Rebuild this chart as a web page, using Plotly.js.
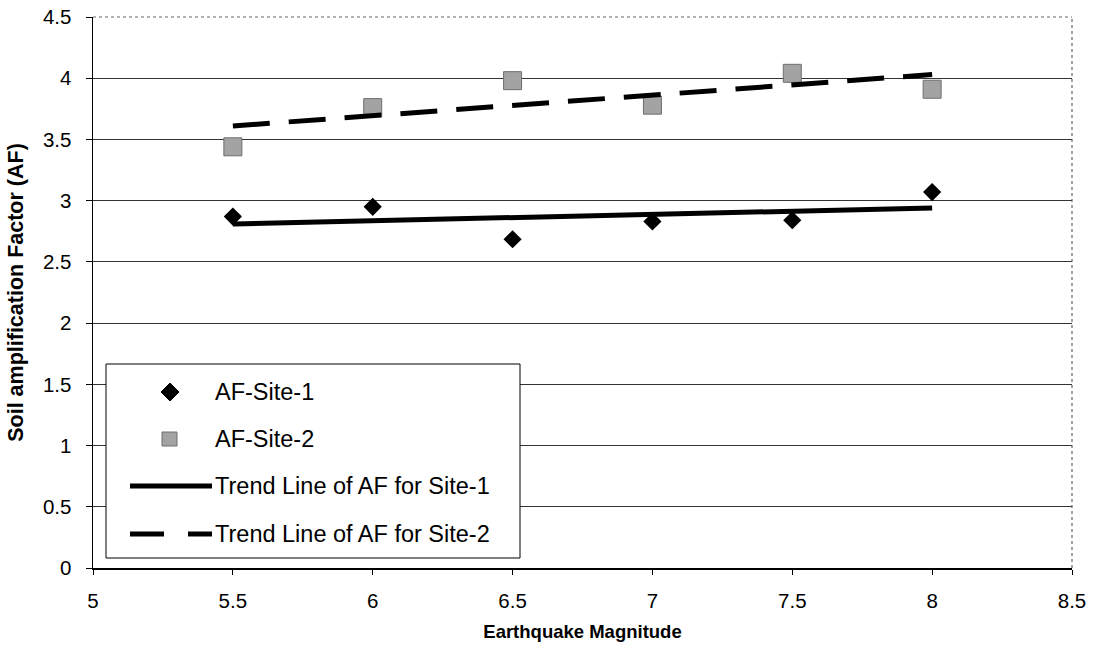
<!DOCTYPE html>
<html><head><meta charset="utf-8">
<script src="https://cdn.plot.ly/plotly-3.0.1.min.js"></script>
<style>html,body{margin:0;padding:0;background:#fff}</style>
</head><body><div id="chart" style="width:1095px;height:650px"></div>
<script>
// ---- data ----
const magnitudes = [5.5, 6, 6.5, 7, 7.5, 8];
const afSite1 = [2.87, 2.95, 2.685, 2.83, 2.84, 3.07];
const afSite2 = [3.44, 3.76, 3.98, 3.78, 4.04, 3.91];
const trendX = [5.5, 8];
const trendSite1 = [2.81, 2.94];
const trendSite2 = [3.61, 4.03];
const xTickVals = [5, 5.5, 6, 6.5, 7, 7.5, 8, 8.5];
const xTickText = ['5', '5.5', '6', '6.5', '7', '7.5', '8', '8.5'];
const yTickVals = [0, 0.5, 1, 1.5, 2, 2.5, 3, 3.5, 4, 4.5];
const yTickText = ['0', '0.5', '1', '1.5', '2', '2.5', '3', '3.5', '4', '4.5'];
const legendNames = ['AF-Site-1', 'AF-Site-2', 'Trend Line of AF for Site-1', 'Trend Line of AF for Site-2'];
const xTitle = 'Earthquake Magnitude';
const yTitle = 'Soil amplification Factor (AF)';

// ---- layout geometry ----
const W = 1095, H = 650;
const M = {l: 93, r: 23, t: 17, b: 82};
const PW = W - M.l - M.r, PH = H - M.t - M.b;
const px = x => (x - M.l) / PW;          // pixel -> paper x
const py = y => (H - M.b - y) / PH;      // pixel -> paper y
const FONT = 'Arial, "Liberation Sans", sans-serif';
const SQUARE_GRAY = '#a3a3a3';

const traces = [
  {x: magnitudes, y: afSite1, name: legendNames[0], type: 'scatter', mode: 'markers',
   marker: {symbol: 'diamond', size: 14, color: '#000'}},
  {x: magnitudes, y: afSite2, name: legendNames[1], type: 'scatter', mode: 'markers',
   marker: {symbol: 'square', size: 18, color: SQUARE_GRAY, line: {color: '#6e6e6e', width: 1}}},
  {x: trendX, y: trendSite1, name: legendNames[2], type: 'scatter', mode: 'lines',
   line: {color: '#000', width: 5}},
  {x: trendX, y: trendSite2, name: legendNames[3], type: 'scatter', mode: 'lines',
   line: {color: '#000', width: 5, dash: '37px,19px'}}
];

// manual legend (box, samples, labels) in paper coordinates
const shapes = [
  // dotted top / right plot borders
  {type: 'line', xref: 'paper', yref: 'paper', x0: 0, x1: 1, y0: 1, y1: 1,
   line: {color: '#666', width: 1.2, dash: 'dot'}},
  {type: 'line', xref: 'paper', yref: 'paper', x0: 1, x1: 1, y0: 0, y1: 1,
   line: {color: '#666', width: 1.2, dash: 'dot'}},
  // legend box
  {type: 'rect', xref: 'paper', yref: 'paper', layer: 'above',
   x0: px(106), x1: px(520), y0: py(558), y1: py(364),
   fillcolor: '#fff', line: {color: '#000', width: 1}},
  // diamond sample
  {type: 'path', xref: 'paper', yref: 'paper', layer: 'above',
   path: `M${px(170)},${py(383)} L${px(179)},${py(392)} L${px(170)},${py(401)} L${px(161)},${py(392)} Z`,
   fillcolor: '#000', line: {color: '#000', width: 1}},
  // square sample
  {type: 'rect', xref: 'paper', yref: 'paper', layer: 'above',
   x0: px(162), x1: px(177), y0: py(446), y1: py(432),
   fillcolor: SQUARE_GRAY, line: {color: '#6e6e6e', width: 1}},
  // solid line sample
  {type: 'line', xref: 'paper', yref: 'paper', layer: 'above',
   x0: px(130), x1: px(212), y0: py(486), y1: py(486), line: {color: '#000', width: 5}},
  // dashed line sample
  {type: 'line', xref: 'paper', yref: 'paper', layer: 'above',
   x0: px(130), x1: px(164), y0: py(534), y1: py(534), line: {color: '#000', width: 5}},
  {type: 'line', xref: 'paper', yref: 'paper', layer: 'above',
   x0: px(188), x1: px(212), y0: py(534), y1: py(534), line: {color: '#000', width: 5}}
];

const legendY = [392, 439, 486, 534];
const annotations = legendNames.map((t, i) => ({
  text: t, xref: 'paper', yref: 'paper', x: px(213), y: py(legendY[i]),
  xanchor: 'left', yanchor: 'middle', showarrow: false,
  font: {family: FONT, size: 23.5, color: '#000'}
}));

const layout = {
  width: W, height: H,
  margin: M,
  paper_bgcolor: '#fff', plot_bgcolor: '#fff',
  showlegend: false,
  font: {family: FONT, color: '#000'},
  xaxis: {
    range: [5, 8.5], tickvals: xTickVals, ticktext: xTickText,
    showgrid: false, zeroline: false,
    showline: true, linecolor: '#000', linewidth: 1.5,
    ticks: 'outside', ticklen: 5, tickcolor: '#000',
    ticklabelstandoff: 9,
    tickfont: {family: FONT, size: 20.5, color: '#000'},
    title: {text: xTitle, standoff: 14, font: {family: FONT, size: 18.5, color: '#000', weight: 'bold'}},
    automargin: false, fixedrange: true
  },
  yaxis: {
    range: [0, 4.5], tickvals: yTickVals, ticktext: yTickText,
    showgrid: true, gridcolor: '#333', gridwidth: 1, zeroline: false,
    showline: true, linecolor: '#000', linewidth: 1.5,
    ticks: 'outside', ticklen: 6, tickcolor: '#000',
    ticklabelstandoff: 10,
    tickfont: {family: FONT, size: 20.5, color: '#000'},
    title: {text: yTitle, standoff: 13, font: {family: FONT, size: 21.5, color: '#000', weight: 'bold'}},
    automargin: false, fixedrange: true
  },
  shapes: shapes,
  annotations: annotations
};

Plotly.newPlot('chart', traces, layout, {displayModeBar: false, staticPlot: true});
</script>
</body></html>
